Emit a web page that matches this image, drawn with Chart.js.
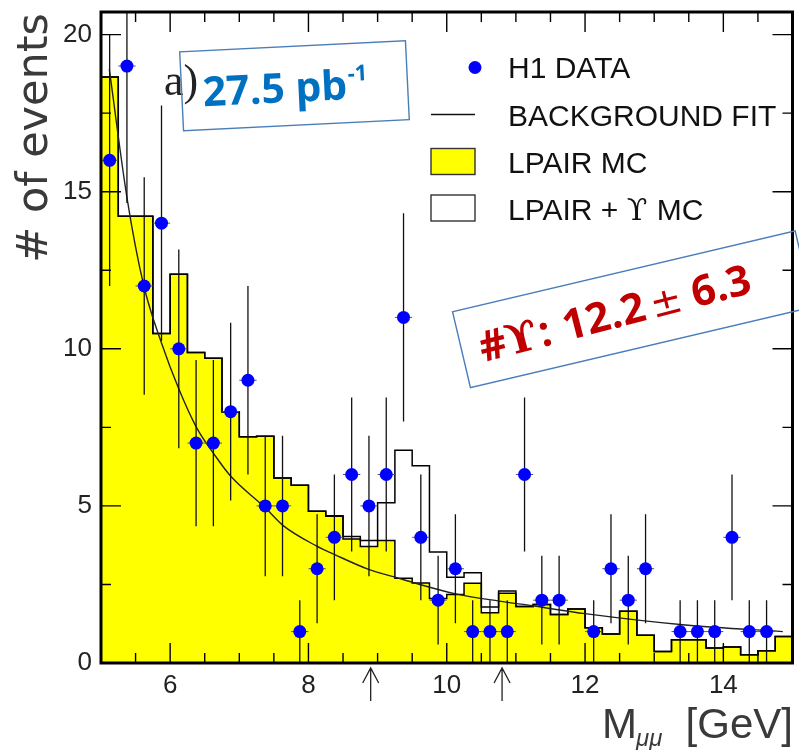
<!DOCTYPE html>
<html>
<head>
<meta charset="utf-8">
<script src="https://cdn.jsdelivr.net/npm/chart.js@4.4.1/dist/chart.umd.min.js"></script>
<style>
  html, body { margin: 0; padding: 0; background: #fff; overflow: hidden; }
  #wrap { position: relative; width: 799px; height: 750px; }
</style>
</head>
<body>
<div id="wrap">
  <canvas id="massChart" width="799" height="750"></canvas>
</div>
<script>
// dimuon mass spectrum, 0.25 GeV bins between 5 and 15 GeV
const massMin = 5.0;
const massMax = 15.0;
const binWidth = 0.25;
const binCenters = Array.from({ length: 40 }, (_, i) => massMin + binWidth * (i + 0.5));

// H1 data, events per bin
const h1Counts = [16, 19, 12, 14, 10, 7, 7, 8, 9, 5,
                  5, 1, 3, 4, 6, 5, 6, 11, 4, 2,
                  3, 1, 1, 1, 6, 2, 2, 0, 1, 3,
                  2, 3, 0, 1, 1, 1, 4, 1, 1, 0];

// LPAIR MC (yellow)
const lpairMC = [18.65, 14.22, 14.22, 10.49, 12.37, 9.88, 9.70, 7.99, 7.20, 7.22,
                 5.89, 5.66, 4.83, 4.67, 3.95, 3.71, 3.90, 2.70, 2.55, 2.05,
                 2.18, 2.54, 1.60, 2.22, 1.80, 1.86, 1.54, 1.72, 1.12, 0.92,
                 1.65, 0.88, 0.37, 0.74, 0.74, 0.48, 0.51, 0.26, 0.39, 0.84];

// LPAIR + Upsilon MC (open histogram)
const lpairUpsMC = [18.65, 14.22, 14.22, 10.49, 12.37, 9.88, 9.70, 7.99, 7.20, 7.22,
                    5.89, 5.66, 4.83, 4.69, 4.03, 3.90, 5.10, 6.77, 6.28, 3.53,
                    2.73, 2.87, 1.78, 2.29, 1.80, 1.86, 1.54, 1.72, 1.12, 0.92,
                    1.65, 0.88, 0.37, 0.74, 0.74, 0.48, 0.51, 0.26, 0.39, 0.84];

// background fit curve
const fitMass = [5.12, 5.38, 5.62, 5.88, 6.12, 6.38, 6.65, 6.87, 7.38, 7.63, 8.12,
                 8.38, 8.87, 9.3, 9.53, 10.13, 10.76, 11.24, 12.0, 13.49, 14.86];
const fitEvents = [18.9, 14.75, 12.0, 10.15, 8.75, 7.5, 6.6, 5.96, 4.93, 4.38, 3.72,
                   3.45, 2.98, 2.7, 2.55, 2.2, 1.97, 1.82, 1.57, 1.2, 1.0];

// signal window markers below the axis
const windowMass = [8.9, 10.8];

const xMajor = [6, 8, 10, 12, 14];
const yMajor = [0, 5, 10, 15, 20];
const yMax = 20.72;

// stepped outline: bin centres plus the two outer edges
function histPoints(values) {
  const pts = [{ x: massMin, y: values[0] }];
  binCenters.forEach((c, i) => pts.push({ x: c, y: values[i] }));
  pts.push({ x: massMax, y: values[values.length - 1] });
  return pts;
}

const dataPoints = binCenters
  .map((c, i) => ({ x: c, y: h1Counts[i] }))
  .filter(p => p.y > 0);

const SANS = '"Liberation Sans", Arial, sans-serif';

// no label overhang padding, the frame sits at fixed margins
function fixedBox(size, horizontal) {
  return function (s) {
    if (horizontal) s.height = size; else s.width = size;
    s.paddingTop = 0; s.paddingBottom = 0;
    s.paddingLeft = 0; s.paddingRight = 0;
  };
}

// Poisson error bars for the data
const errorBars = {
  id: 'errorBars',
  beforeDatasetDraw(chart, args) {
    if (args.index !== 0) return;
    const { ctx, chartArea: a, scales: { x, y } } = chart;
    ctx.save();
    ctx.beginPath();
    ctx.rect(a.left, a.top, a.right - a.left, a.bottom - a.top);
    ctx.clip();
    ctx.strokeStyle = '#111';
    ctx.lineWidth = 1.3;
    dataPoints.forEach(p => {
      const err = Math.sqrt(p.y);
      const px = x.getPixelForValue(p.x);
      ctx.beginPath();
      ctx.moveTo(px, y.getPixelForValue(p.y + err));
      ctx.lineTo(px, y.getPixelForValue(Math.max(0, p.y - err)));
      ctx.stroke();
    });
    ctx.strokeStyle = '#555';
    ctx.lineWidth = 1;
    dataPoints.forEach(p => {
      const py = y.getPixelForValue(p.y);
      ctx.beginPath();
      ctx.moveTo(x.getPixelForValue(p.x - binWidth / 2), py);
      ctx.lineTo(x.getPixelForValue(p.x + binWidth / 2), py);
      ctx.stroke();
    });
    ctx.restore();
  }
};

// frame with inward ticks on all four sides, plus the window arrows
const frameTicks = {
  id: 'frameTicks',
  afterDatasetsDraw(chart) {
    const { ctx, chartArea: a, scales: { x, y } } = chart;
    ctx.save();
    ctx.strokeStyle = '#000';
    ctx.lineWidth = 1.4;
    ctx.beginPath();
    for (let m = 5.5; m < massMax; m += 0.5) {
      const len = xMajor.includes(m) ? 20 : 10;
      const px = x.getPixelForValue(m);
      ctx.moveTo(px, a.bottom); ctx.lineTo(px, a.bottom - len);
      ctx.moveTo(px, a.top); ctx.lineTo(px, a.top + len);
    }
    for (let v = 2.5; v < yMax; v += 2.5) {
      const len = yMajor.includes(v) ? 20 : 10;
      const py = y.getPixelForValue(v);
      ctx.moveTo(a.left, py); ctx.lineTo(a.left + len, py);
      ctx.moveTo(a.right, py); ctx.lineTo(a.right - len, py);
    }
    ctx.stroke();

    ctx.lineWidth = 3;
    ctx.strokeRect(a.left, a.top, a.right - a.left, a.bottom - a.top);

    ctx.strokeStyle = '#222';
    ctx.lineWidth = 1.3;
    windowMass.forEach(m => {
      const px = x.getPixelForValue(m);
      const tip = a.bottom + 5;
      ctx.beginPath();
      ctx.moveTo(px, tip + 33); ctx.lineTo(px, tip);
      ctx.moveTo(px - 8, tip + 15); ctx.lineTo(px, tip); ctx.lineTo(px + 8, tip + 15);
      ctx.stroke();
    });
    ctx.restore();
  }
};

// legend, axis titles and the two boxed notes
const decorations = {
  id: 'decorations',
  afterDraw(chart) {
    const ctx = chart.ctx;
    ctx.save();

    // legend
    ctx.fillStyle = '#111';
    ctx.font = '30px ' + SANS;
    ctx.textAlign = 'left';
    ctx.textBaseline = 'alphabetic';
    ctx.fillText('H1 DATA', 508, 78);
    ctx.fillText('BACKGROUND FIT', 508, 126);
    ctx.fillText('LPAIR MC', 508, 172.5);
    ctx.fillText('LPAIR + ', 508, 220);
    let lx = 508 + ctx.measureText('LPAIR + ').width;
    ctx.font = '30px "DejaVu Serif", serif';
    ctx.fillText('ϒ', lx, 220);
    lx += ctx.measureText('ϒ ').width;
    ctx.font = '30px ' + SANS;
    ctx.fillText('MC', lx, 220);

    ctx.fillStyle = 'rgb(0,0,255)';
    ctx.beginPath();
    ctx.arc(475, 67.5, 6.5, 0, Math.PI * 2);
    ctx.fill();

    ctx.strokeStyle = '#111';
    ctx.lineWidth = 1.4;
    ctx.beginPath();
    ctx.moveTo(431, 114.5); ctx.lineTo(475, 114.5);
    ctx.stroke();
    ctx.fillStyle = '#ffff00';
    ctx.fillRect(431, 148.5, 44, 26);
    ctx.strokeStyle = '#333';
    ctx.strokeRect(431, 148.5, 44, 26);
    ctx.strokeRect(431, 195, 44, 26);

    // y title
    ctx.fillStyle = '#3a3a3a';
    ctx.save();
    ctx.translate(47, 13);
    ctx.rotate(-Math.PI / 2);
    ctx.textAlign = 'right';
    ctx.font = '43px "DejaVu Sans", sans-serif';
    ctx.fillText('# of events', 0, 0);
    ctx.restore();

    // x title
    ctx.font = '42px ' + SANS;
    ctx.textAlign = 'left';
    ctx.fillText('M', 602, 738);
    ctx.font = 'italic 24px ' + SANS;
    ctx.fillText('μμ', 636, 746);
    ctx.font = '42px ' + SANS;
    ctx.textAlign = 'right';
    ctx.fillText('[GeV]', 793, 738);

    // panel label
    ctx.textAlign = 'left';
    ctx.fillStyle = '#222';
    ctx.font = '44px "Liberation Serif", serif';
    ctx.fillText('a)', 164, 95);

    // luminosity box
    ctx.save();
    ctx.translate(294.5, 85.75);
    ctx.rotate(-2.8 * Math.PI / 180);
    ctx.strokeStyle = '#4a7ebb';
    ctx.lineWidth = 1.4;
    ctx.strokeRect(-113, -39.5, 226, 79);
    ctx.fillStyle = '#0070c0';
    ctx.font = 'bold 41px "Open Sans", sans-serif';
    ctx.fillText('27.5 pb', -92, 16);
    const w1 = ctx.measureText('27.5 pb').width;
    ctx.font = 'bold 22px "Open Sans", sans-serif';
    ctx.fillText('-1', -92 + w1 + 1, -2);
    ctx.restore();

    // Upsilon yield box
    ctx.save();
    ctx.translate(632.8, 309.3);
    ctx.rotate(-13.27 * Math.PI / 180);
    ctx.strokeStyle = '#4a7ebb';
    ctx.lineWidth = 1.4;
    ctx.strokeRect(-176, -39, 352, 78);
    ctx.rotate(-1.2 * Math.PI / 180);
    ctx.fillStyle = '#c00000';
    ctx.font = 'bold 42px "Open Sans", sans-serif';
    ctx.fillText('#', -158, 14);
    let tx = -158 + ctx.measureText('#').width;
    ctx.font = 'bold 42px "DejaVu Serif", serif';
    ctx.fillText('ϒ', tx, 14);
    tx += ctx.measureText('ϒ').width;
    ctx.font = 'bold 42px "Open Sans", sans-serif';
    ctx.fillText(':', tx + 2, 14);
    ctx.fillText('12.2', -72, 14);
    ctx.fillText('6.3', 61, 14);
    ctx.font = '38px "DejaVu Sans", sans-serif';
    ctx.fillText('±', 18, 14);
    ctx.restore();

    ctx.restore();
  }
};

Chart.defaults.font.family = SANS;

new Chart(document.getElementById('massChart'), {
  type: 'line',
  data: {
    datasets: [
      {
        label: 'H1 DATA',
        data: dataPoints,
        showLine: false,
        pointRadius: 6.5,
        pointBackgroundColor: 'rgb(0,0,255)',
        pointBorderWidth: 0,
        order: 0
      },
      {
        label: 'BACKGROUND FIT',
        data: fitMass.map((m, i) => ({ x: m, y: fitEvents[i] })),
        borderColor: '#222',
        borderWidth: 1.4,
        pointRadius: 0,
        cubicInterpolationMode: 'monotone',
        fill: false,
        order: 1
      },
      {
        label: 'LPAIR + ϒ MC',
        data: histPoints(lpairUpsMC),
        stepped: 'middle',
        borderColor: '#000',
        borderWidth: 1.5,
        pointRadius: 0,
        fill: false,
        order: 2
      },
      {
        label: 'LPAIR MC',
        data: histPoints(lpairMC),
        stepped: 'middle',
        borderColor: '#000',
        borderWidth: 1.5,
        backgroundColor: '#ffff00',
        pointRadius: 0,
        fill: 'origin',
        order: 3
      }
    ]
  },
  options: {
    responsive: false,
    animation: false,
    layout: { padding: { top: 12, right: 4, left: 0, bottom: 0 } },
    plugins: {
      legend: { display: false },
      tooltip: { enabled: false }
    },
    scales: {
      x: {
        type: 'linear',
        min: massMin,
        max: massMax,
        afterBuildTicks(s) { s.ticks = xMajor.map(v => ({ value: v })); },
        afterFit: fixedBox(87, true),
        grid: { display: false, drawTicks: false },
        border: { display: false },
        ticks: {
          padding: 7,
          color: '#222',
          font: { size: 26 }
        }
      },
      y: {
        min: 0,
        max: yMax,
        afterBuildTicks(s) { s.ticks = yMajor.map(v => ({ value: v })); },
        afterFit: fixedBox(101, false),
        grid: { display: false, drawTicks: false },
        border: { display: false },
        ticks: {
          padding: 9,
          color: '#222',
          font: { size: 26 }
        }
      }
    }
  },
  plugins: [errorBars, frameTicks, decorations]
});
</script>
</body>
</html>
